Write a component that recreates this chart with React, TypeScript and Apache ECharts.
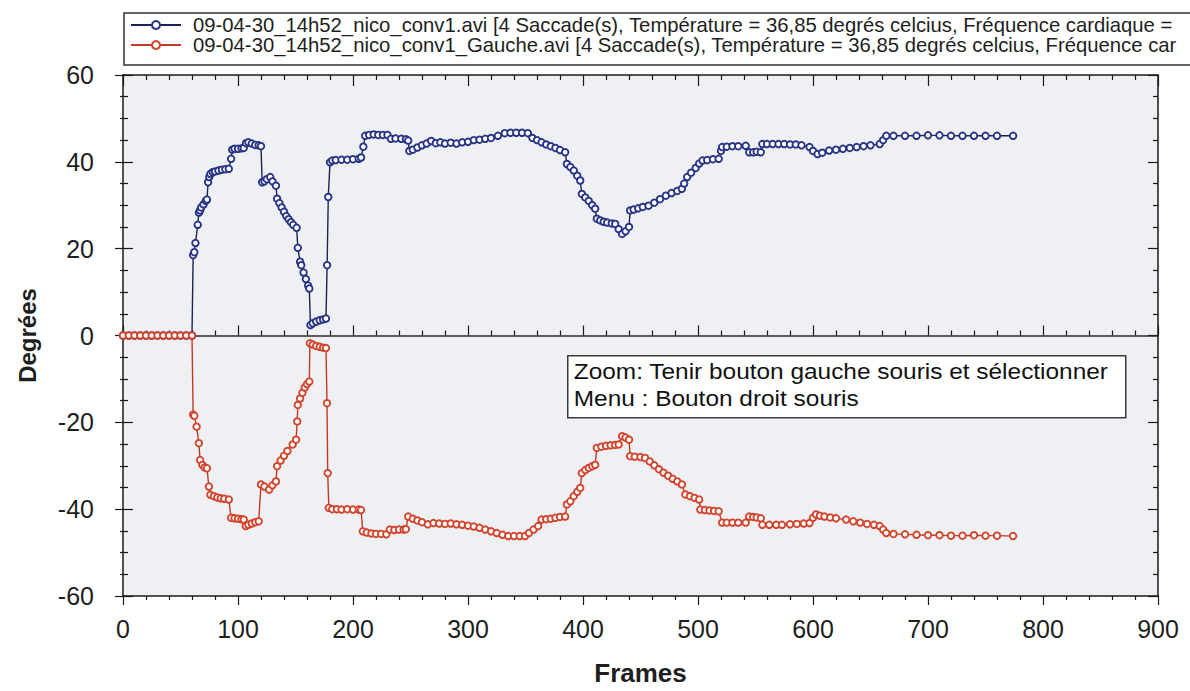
import React, { useEffect, useRef } from "react";
import * as echarts from "echarts";

// Eye angle (degrees) per video frame, right eye recording and "Gauche" recording.
const droitFrames = [
  0, 5, 10, 15, 20, 25, 30, 35, 40, 45, 50, 55, 60, 61, 62, 63, 65, 66, 67, 68, 70, 72, 73, 74, 75, 76, 78, 80, 83, 86, 89, 92, 94, 95, 97, 100,
  103, 105, 107, 109, 112, 115, 118, 120, 121, 123, 125, 128, 130, 133, 134, 136, 138, 140, 142, 144, 146, 148, 151, 152, 154, 155, 157, 159,
  161, 162, 163, 165, 168, 171, 174, 176.5, 177.5, 178.5, 180, 182, 185, 190, 195, 200, 205, 207, 209, 210.6, 214, 218, 222, 226, 230, 233,
  237, 242, 246, 248, 249, 252, 256, 260, 264, 268, 272, 276, 280, 285, 290, 295, 300, 305, 310, 315, 320, 326, 332, 337, 342, 347, 352, 356,
  360, 364, 368, 372, 376, 380, 384.5, 386, 389, 392, 395, 397.6, 399, 402, 405, 408, 410.6, 412, 415, 418, 421, 425, 428, 431, 434, 437, 440,
  441, 444, 448, 452, 457, 462, 467, 472, 477, 482, 486, 488, 490.6, 494, 498, 501, 504, 508, 513, 518, 520, 521, 525, 530, 535, 541.5, 544.5,
  548, 551, 554.6, 556, 560, 565, 570, 575, 580, 585, 590, 597, 600, 604, 608, 614, 620, 626, 632, 638, 644, 650, 658, 661, 663.7, 670, 680,
  690, 700, 710, 720, 730, 740, 750, 760, 774,
];
const droitDegres = [
  0, 0, 0, 0, 0, 0, 0, 0, 0, 0, 0, 0, 0, 18.5, 19.2, 21.3, 25.5, 28.3, 28.8, 29.5, 30.2, 31, 31.3, 35.3, 36.5, 37.2, 37.6, 37.8, 38, 38.2, 38.3,
  38.4, 40.7, 42.8, 43, 43, 43.1, 43.2, 44.3, 44.5, 44.2, 43.9, 43.8, 43.6, 35.3, 35.5, 36, 36.5, 35.5, 34.5, 31.5, 30.5, 29.5, 28.5, 27.5,
  26.8, 26.1, 25.5, 24.8, 20.2, 17, 16.2, 14.5, 13, 11.5, 10.8, 2.4, 2.8, 3.2, 3.5, 3.7, 3.9, 16.2, 31.9, 39.9, 40.3, 40.4, 40.5, 40.5, 40.6,
  40.7, 41, 43.5, 46, 46.2, 46.3, 46.2, 46.2, 46.2, 45.3, 45.4, 45.3, 45.2, 44.9, 42.5, 42.8, 43.3, 43.8, 44.2, 44.8, 44.3, 44.5, 44.2, 44.4,
  44.2, 44.5, 44.6, 45, 45.1, 45.3, 45.5, 46, 46.6, 46.7, 46.7, 46.7, 46.6, 45.5, 45, 44.5, 44, 43.6, 43.2, 42.7, 42.2, 39.5, 38.8, 38, 36.8,
  35.7, 32.6, 31.8, 31, 30, 29.2, 26.9, 26.5, 26.2, 26, 25.8, 25.7, 24.5, 23.4, 24, 25, 28.8, 29, 29.3, 29.6, 29.9, 30.6, 31.4, 32.2, 32.8,
  33.3, 33.8, 35, 36.5, 37.5, 38.6, 39.6, 40.3, 40.4, 40.6, 40.7, 42.5, 43.4, 43.5, 43.6, 43.6, 43.7, 42.2, 42.2, 42.3, 42.2, 44.1, 44.1,
  44.1, 44.1, 44.1, 44, 44, 43.8, 43.4, 42.5, 41.8, 42.1, 42.6, 42.8, 43, 43.2, 43.4, 43.6, 43.8, 44.1, 45, 46, 46, 46, 46, 46.1, 46.1, 46,
  46, 46, 46, 46, 46,
];

const gaucheFrames = [
  0, 5, 10, 15, 20, 25, 30, 35, 40, 45, 50, 55, 60, 61, 62, 64, 66, 67, 69, 71, 73, 74.7, 76, 79, 82, 85, 88, 92, 94, 97, 100, 103, 105, 106.7,
  109, 112, 115, 118, 120, 123, 127, 130, 133, 134, 137, 140, 143, 147.5, 150.5, 151.5, 152, 154, 156, 158, 160, 162, 162.5, 165, 168, 171,
  174, 176.5, 177.4, 178, 179, 182, 186, 190, 195, 200, 205, 207, 208.5, 212, 216, 220, 224.5, 229, 232, 236, 240, 244, 246, 248, 252, 256,
  260, 265, 270, 275, 280, 285, 290, 295, 300, 305, 310, 315, 320, 325, 330, 335, 340, 345, 349.6, 353, 357, 361, 364, 368, 372, 376, 380,
  384.5, 386, 389, 392, 395, 397.6, 399, 402, 405, 408, 410.6, 412, 416, 420, 424, 428, 431, 434, 437, 440, 441, 445, 450, 454, 458, 462, 466,
  470, 474, 478, 482, 486, 489, 493, 497, 501, 502, 506, 510, 514, 518, 521, 525, 530, 535, 541.5, 544.5, 548, 551, 554.6, 556, 562, 568, 573,
  580, 586, 592, 597, 600, 602.6, 606, 610, 615, 620, 628.8, 635, 641, 647, 653, 658, 661, 663.7, 670, 680, 690, 700, 710, 720, 730, 740, 750,
  760, 774,
];
const gaucheDegres = [
  0, 0, 0, 0, 0, 0, 0, 0, 0, 0, 0, 0, 0, -18.2, -18.5, -21, -24.8, -28.7, -29.8, -30.4, -30.6, -34.8, -36.7, -37, -37.3, -37.5, -37.6, -37.8,
  -42, -42.1, -42.2, -42.3, -42.4, -43.9, -43.6, -43.3, -43, -42.8, -34.3, -34.8, -35.5, -34.5, -33.6, -30.1, -28.8, -27.7, -26.6, -25.1, -24,
  -19.8, -16, -14.5, -13.2, -12, -11.2, -10.6, -1.8, -2.1, -2.4, -2.6, -2.8, -2.9, -15.6, -31.7, -39.7, -40, -40, -40.1, -40, -40.1, -40.1,
  -40.2, -45.1, -45.4, -45.6, -45.7, -45.7, -45.8, -44.7, -44.8, -44.7, -44.7, -44.6, -41.7, -42.2, -42.6, -43, -43.5, -43.2, -43.3, -43.4,
  -43.3, -43.5, -43.6, -43.8, -44, -44.3, -44.7, -45.1, -45.5, -45.9, -46.2, -46.2, -46.2, -46.2, -45.5, -44.7, -43.9, -42.4, -42.3, -42.2,
  -42, -41.8, -41.7, -38.9, -38.2, -37, -36, -35.1, -31.7, -31, -30.5, -30.1, -29.8, -25.9, -25.6, -25.4, -25.3, -25.2, -25.1, -23.2, -23.5,
  -24, -27.8, -27.9, -28, -28.2, -29, -29.9, -30.8, -31.6, -32.3, -33, -33.6, -34.3, -36.6, -37, -37.4, -37.8, -40.1, -40.2, -40.3, -40.4,
  -40.5, -43.1, -43.1, -43.1, -43.1, -43.1, -41.7, -41.8, -41.9, -42.1, -43.6, -43.6, -43.6, -43.6, -43.5, -43.4, -43.3, -43.2, -42, -41.2,
  -41.5, -41.7, -41.9, -42.1, -42.4, -42.8, -43.1, -43.4, -43.6, -43.9, -44.7, -45.5, -45.7, -45.8, -45.9, -46, -46, -46.1, -46.1, -46,
  -46.1, -46.1, -46.2,
];

const seriesNames = [
  "09-04-30_14h52_nico_conv1.avi [4 Saccade(s), Température = 36,85 degrés celcius, Fréquence cardiaque =",
  "09-04-30_14h52_nico_conv1_Gauche.avi [4 Saccade(s), Température = 36,85 degrés celcius, Fréquence car",
];
const xTitle = "Frames";
const yTitle = "Degrées";
const helpLines = ["Zoom: Tenir bouton gauche souris et sélectionner", "Menu : Bouton droit souris"];

const FONT = "'Liberation Sans', Arial, sans-serif";
const BLUE = "#283486";
const RED = "#d4432c";

function pairs(xs: number[], ys: number[]) {
  return xs.map((x, i) => [x, ys[i]]);
}

export default function App() {
  const ref = useRef<HTMLDivElement>(null);

  useEffect(() => {
    if (!ref.current) return;
    const chart = echarts.init(ref.current, null, { renderer: "svg" });

    const xBase = { type: "value", min: 0, max: 900, interval: 100, gridIndex: 0 } as any;
    const yBase = { type: "value", min: -60, max: 60, interval: 20, gridIndex: 0 } as any;
    const axisLine = { show: true, onZero: false, lineStyle: { color: "#1a1a1a", width: 1.5 } };
    const tickStyle = { color: "#1a1a1a", width: 1.2 };
    const noLabel = { show: false };
    const noSplit = { show: false };

    const makeSeries = (name: string, data: number[][], color: string, lineColor: string, extra: any = {}) => ({
      name,
      type: "line",
      xAxisIndex: 0,
      yAxisIndex: 0,
      data,
      symbol: "circle",
      symbolSize: 6.5,
      showSymbol: true,
      lineStyle: { color: lineColor, width: 1.4 },
      itemStyle: { color: "#ffffff", borderColor: color, borderWidth: 1.9 },
      emphasis: { disabled: true },
      z: 3,
      ...extra,
    });

    chart.setOption({
      animation: false,
      textStyle: { fontFamily: FONT },
      grid: {
        left: 123,
        right: 32,
        top: 75,
        bottom: 91,
        show: true,
        backgroundColor: "#eff0f3",
        borderWidth: 0,
      },
      legend: {
        orient: "vertical",
        left: 124,
        top: 13,
        itemWidth: 50,
        itemHeight: 10,
        itemGap: 0,
        padding: [2, 24, 10, 6],
        backgroundColor: "#ffffff",
        borderColor: "#333333",
        borderWidth: 1.5,
        borderRadius: 0,
        selectedMode: false,
        textStyle: { fontFamily: FONT, fontSize: 20.3, color: "#1e1e1e", lineHeight: 19, padding: [0, 0, 0, 7] },
        data: seriesNames,
      },
      xAxis: [
        {
          ...xBase,
          position: "bottom",
          name: xTitle,
          nameLocation: "middle",
          nameGap: 64,
          nameTextStyle: { fontFamily: FONT, fontSize: 26, fontWeight: "bold", color: "#1e1e1e" },
          axisLine,
          axisTick: { show: true, inside: false, length: 9, lineStyle: tickStyle },
          minorTick: { show: true, splitNumber: 5, length: 4, lineStyle: tickStyle },
          axisLabel: { show: true, fontFamily: FONT, fontSize: 25, color: "#1e1e1e", margin: 20 },
          splitLine: noSplit,
        },
        {
          ...xBase,
          position: "bottom",
          axisLine: { show: false },
          axisTick: { show: true, inside: true, length: 10, lineStyle: tickStyle },
          minorTick: { show: true, splitNumber: 5, length: 5, lineStyle: tickStyle },
          axisLabel: noLabel,
          splitLine: noSplit,
        },
        {
          ...xBase,
          position: "top",
          axisLine,
          axisTick: { show: true, inside: true, length: 11, lineStyle: tickStyle },
          minorTick: { show: true, splitNumber: 5, length: 5, lineStyle: tickStyle },
          axisLabel: noLabel,
          splitLine: noSplit,
        },
      ],
      yAxis: [
        {
          ...yBase,
          position: "left",
          name: yTitle,
          nameLocation: "middle",
          nameGap: 84,
          nameRotate: 90,
          nameTextStyle: { fontFamily: FONT, fontSize: 24, fontWeight: "bold", color: "#1e1e1e" },
          axisLine,
          axisTick: { show: true, inside: false, length: 8, lineStyle: tickStyle },
          minorTick: { show: true, splitNumber: 4, length: 3, lineStyle: tickStyle },
          axisLabel: { show: true, fontFamily: FONT, fontSize: 25, color: "#1e1e1e", margin: 29 },
          splitLine: noSplit,
        },
        {
          ...yBase,
          position: "left",
          axisLine: { show: false },
          axisTick: { show: true, inside: true, length: 10, lineStyle: tickStyle },
          minorTick: { show: true, splitNumber: 4, length: 5, lineStyle: tickStyle },
          axisLabel: noLabel,
          splitLine: noSplit,
        },
        {
          ...yBase,
          position: "right",
          axisLine,
          axisTick: { show: true, inside: true, length: 10, lineStyle: tickStyle },
          minorTick: { show: true, splitNumber: 4, length: 5, lineStyle: tickStyle },
          axisLabel: noLabel,
          splitLine: noSplit,
        },
      ],
      series: [
        makeSeries(seriesNames[0], pairs(droitFrames, droitDegres), BLUE, "#1d2350", {
          markLine: {
            silent: true,
            symbol: "none",
            label: { show: false },
            lineStyle: { color: "#2a2a2a", width: 1.5, type: "solid" },
            data: [{ yAxis: 0 }],
            z: 2,
          },
        }),
        makeSeries(seriesNames[1], pairs(gaucheFrames, gaucheDegres), RED, "#c23a24"),
      ],
      graphic: [
        {
          type: "group",
          left: 567,
          top: 355,
          z: 10,
          children: [
            {
              type: "rect",
              shape: { x: 0, y: 0, width: 558, height: 62 },
              style: { fill: "#ffffff", stroke: "#3a3a3a", lineWidth: 1.5 },
            },
            {
              type: "text",
              x: 6,
              y: 16,
              scaleX: 1.11,
              style: { text: helpLines[0], font: `22px ${FONT}`, fill: "#111111", verticalAlign: "middle" },
            },
            {
              type: "text",
              x: 6,
              y: 43,
              scaleX: 1.11,
              style: { text: helpLines[1], font: `22px ${FONT}`, fill: "#111111", verticalAlign: "middle" },
            },
          ],
        },
      ],
    });

    return () => chart.dispose();
  }, []);

  return (
    <div
      ref={ref}
      style={{ position: "fixed", left: 0, top: 0, width: 1190, height: 691, background: "#ffffff" }}
    />
  );
}
